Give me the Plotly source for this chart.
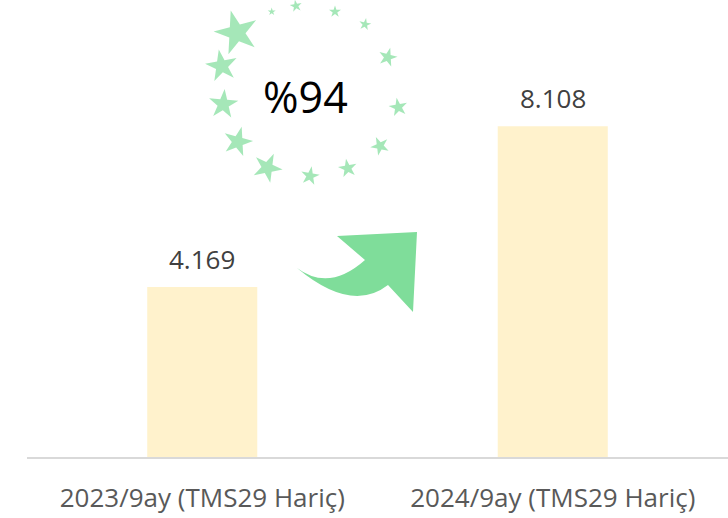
import plotly.graph_objects as go

# ---- data ----
categories = ["2023/9ay (TMS29 Hariç)", "2024/9ay (TMS29 Hariç)"]
values = [4169, 8108]
value_labels = ["4.169", "8.108"]
growth_label = "%94"

# ---- decoration (pixel space of the 728x518 canvas) ----
star_x = [236.7, 221.7, 223.3, 237.7, 267.3, 310, 347.7, 380, 398.3, 387.7, 365, 335, 296, 271.7]
star_y = [32.7, 66, 104.3, 141.7, 167.7, 176, 168.3, 146, 107.3, 57.3, 24.3, 11.7, 6, 11.7]
star_size = [33, 24, 22, 22, 22, 14, 14, 14, 14, 14, 9, 9, 9, 6]
star_angle = [-15, -10, 5, 15, 25, 10, -10, -25, -10, 15, 10, 0, -10, 0]

GREEN = "#7FDD9A"
BAR = "#FFF2CC"
W, H = 728, 518

fig = go.Figure()

fig.add_trace(go.Bar(
    x=categories, y=values, marker_color=BAR, marker_line_width=0,
    hoverinfo="skip", xaxis="x", yaxis="y",
))

for c, v, t in zip(categories, values, value_labels):
    fig.add_annotation(x=c, y=v, xref="x", yref="y", text=t, showarrow=False,
                       yanchor="bottom", yshift=8,
                       font=dict(family="Open Sans", size=26, color="#404040"))

fig.add_trace(go.Scatter(
    x=star_x, y=star_y, mode="markers", xaxis="x2", yaxis="y2",
    marker=dict(symbol="star", size=star_size, color=GREEN, angle=star_angle,
                line_width=0),
    hoverinfo="skip",
))

fig.add_annotation(x=305, y=96, xref="x2", yref="y2", text=growth_label, showarrow=False,
                   font=dict(family="Open Sans", size=43, color="#000000"))

arrow = ("M 297 268 Q 329 292 365 260 L 337 236 L 417 232 L 413 312 "
         "L 388 285 Q 351.5 313.5 297 268 Z")
fig.add_shape(type="path", path=arrow, xref="x2", yref="y2",
              fillcolor=GREEN, line_width=0)

fig.update_layout(
    width=W, height=H, margin=dict(l=0, r=0, t=0, b=0),
    paper_bgcolor="white", plot_bgcolor="rgba(0,0,0,0)",
    showlegend=False, bargap=0.686,
    xaxis=dict(domain=[27 / W, 1], showline=True, linecolor="#D9D9D9", linewidth=1.5,
               showgrid=False, zeroline=False, ticks="", ticklabelstandoff=17,
               tickfont=dict(family="Open Sans", size=26, color="#595959"),
               automargin=False, fixedrange=True),
    yaxis=dict(domain=[61 / H, 1], range=[0, 11206], visible=False,
               automargin=False, fixedrange=True),
    xaxis2=dict(domain=[0, 1], range=[0, W], visible=False, anchor="y2",
                fixedrange=True),
    yaxis2=dict(domain=[0, 1], range=[H, 0], visible=False, anchor="x2",
                fixedrange=True),
)

fig.write_html("out.html", config={"displayModeBar": False},
               post_script="document.body.style.margin='0';document.body.style.overflow='hidden';")
